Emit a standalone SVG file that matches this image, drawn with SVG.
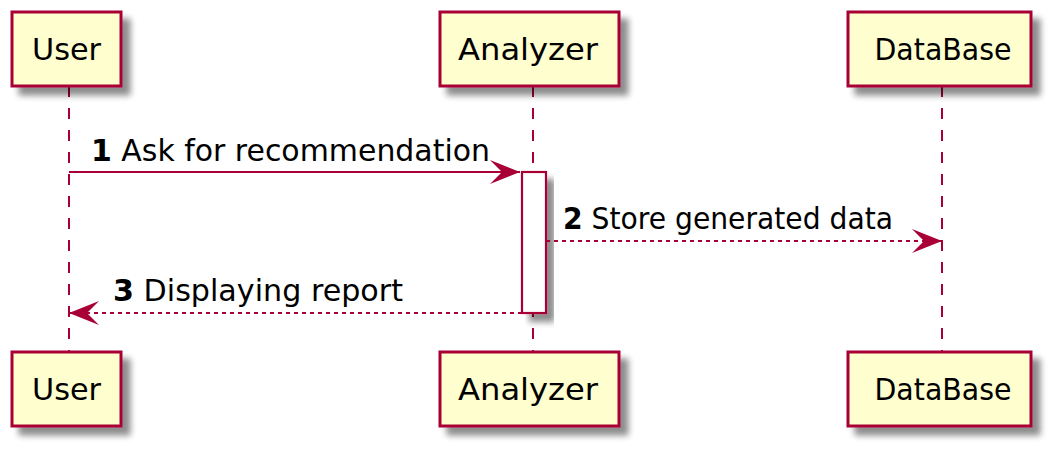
<svg xmlns="http://www.w3.org/2000/svg" width="1062" height="458" viewBox="0 0 1062 458">
<defs>
<filter id="sh" x="-20%" y="-20%" width="150%" height="150%">
<feGaussianBlur in="SourceAlpha" stdDeviation="3"/>
<feOffset dx="8" dy="8" result="b"/>
<feComponentTransfer><feFuncA type="linear" slope="0.45"/></feComponentTransfer>
<feMerge><feMergeNode/><feMergeNode in="SourceGraphic"/></feMerge>
</filter>
<marker id="ah" viewBox="0 0 30 24" refX="30" refY="12" markerWidth="30" markerHeight="24" markerUnits="userSpaceOnUse" orient="auto">
<polygon points="0,0 30,12 0,24 12,12" fill="#A80036"/>
</marker>
</defs>
<style>
.box{fill:#FEFECE;stroke:#A80036;stroke-width:3;}
.life{stroke:#A80036;stroke-width:2;stroke-dasharray:11,11;fill:none;}
.pt{font-family:"DejaVu Sans",sans-serif;font-size:31px;fill:#000;text-anchor:middle;}
.msg{font-family:"DejaVu Sans",sans-serif;font-size:30px;fill:#000;}
.num{font-weight:bold;}
.solid{stroke:#A80036;stroke-width:2.2;fill:none;}
.dash{stroke:#A80036;stroke-width:2.2;fill:none;stroke-dasharray:4,4;}
.act{fill:#FFFFFF;stroke:#A80036;stroke-width:2.2;}
</style>
<g id="lifelines">
<line class="life" x1="69" y1="86" x2="69" y2="352"/>
<line class="life" x1="533" y1="86" x2="533" y2="352"/>
<line class="life" x1="942" y1="86" x2="942" y2="352"/>
</g>
<g id="user">
<rect class="box" x="12" y="12" width="109" height="74" filter="url(#sh)"/>
<text class="pt" x="66.5" y="60" textLength="69" lengthAdjust="spacingAndGlyphs">User</text>
<rect class="box" x="12" y="352" width="109" height="74" filter="url(#sh)"/>
<text class="pt" x="66.5" y="400" textLength="69" lengthAdjust="spacingAndGlyphs">User</text>
</g>
<g id="analyzer">
<rect class="box" x="440" y="12" width="179" height="74" filter="url(#sh)"/>
<text class="pt" x="528" y="60" textLength="140" lengthAdjust="spacingAndGlyphs">Analyzer</text>
<rect class="box" x="440" y="352" width="179" height="74" filter="url(#sh)"/>
<text class="pt" x="528" y="400" textLength="140" lengthAdjust="spacingAndGlyphs">Analyzer</text>
</g>
<g id="database">
<rect class="box" x="848" y="12" width="183" height="74" filter="url(#sh)"/>
<text class="pt" x="943" y="60" textLength="137" lengthAdjust="spacingAndGlyphs">DataBase</text>
<rect class="box" x="848" y="352" width="183" height="74" filter="url(#sh)"/>
<text class="pt" x="943" y="400" textLength="137" lengthAdjust="spacingAndGlyphs">DataBase</text>
</g>
<g id="activation">
<rect class="act" x="522" y="172" width="24" height="141" filter="url(#sh)"/>
</g>
<g id="connectors">
<line class="solid" x1="69" y1="172" x2="520" y2="172" marker-end="url(#ah)"/>
<line class="dash" x1="546" y1="241" x2="942" y2="241" marker-end="url(#ah)"/>
<line class="dash" x1="522" y1="313" x2="69" y2="313" marker-end="url(#ah)"/>
</g>
<g id="labels">
<text class="msg" x="91" y="161" textLength="399" lengthAdjust="spacingAndGlyphs"><tspan class="num">1</tspan> Ask for recommendation</text>
<text class="msg" x="563" y="229" textLength="330" lengthAdjust="spacingAndGlyphs"><tspan class="num">2</tspan> Store generated data</text>
<text class="msg" x="113" y="301" textLength="290" lengthAdjust="spacingAndGlyphs"><tspan class="num">3</tspan> Displaying report</text>
</g>
</svg>
